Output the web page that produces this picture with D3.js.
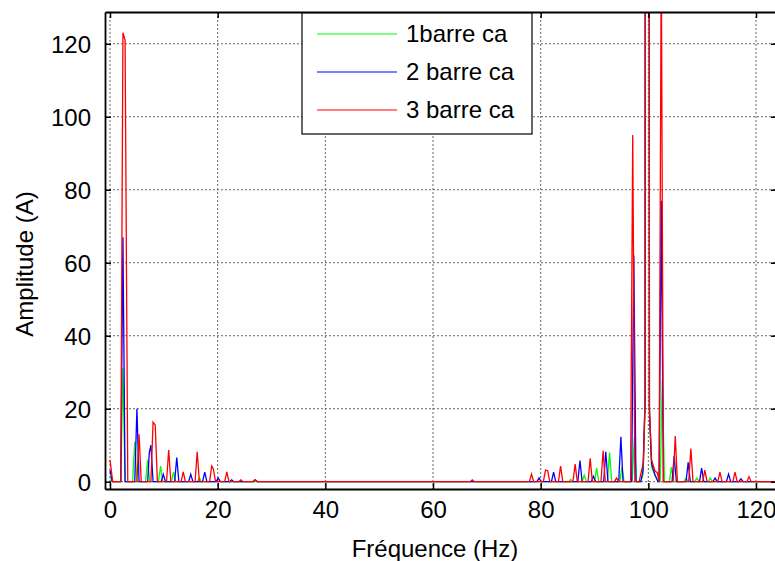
<!DOCTYPE html>
<html>
<head>
<meta charset="utf-8">
<script src="https://cdn.jsdelivr.net/npm/d3@7"></script>
<style>
  body { margin: 0; background: #fff; }
  svg { display: block; font-family: "Liberation Sans", Arial, sans-serif; }
</style>
</head>
<body>
<div id="chart"></div>
<script>
var green = [[0,1.5],[0.4,0],[2.0,0],[2.4,31],[2.8,0],[4.2,0],[4.6,11],[5.0,0],[6.6,0],[7.0,6],[7.4,0],
  [9.0,0],[9.4,4.3],[9.8,0],[11.4,0],[11.8,2.7],[12.2,0],[16.2,0],[16.6,1],[17.0,0],
  [85.2,0],[85.6,0.6],[86.0,0],[87.7,0],[88.1,1.8],[88.5,0],[90.0,0],[90.4,3.7],[90.8,0],[92.4,0],[92.8,8],[93.2,0],
  [94.7,0],[95.1,4],[95.5,0],[97.0,0],[97.4,12],[97.8,0],[98.6,0],[99.0,2],[99.4,20],[99.8,2000],[100.2,18],
  [100.6,4],[101.2,2],[101.8,0],[102.2,0],[102.6,28],[103.0,0],[103.9,0],[104.3,4],[104.7,0],[106.6,0],[107.0,1],
  [107.4,0],[108.6,0],[109.0,1],[109.4,0],[111.1,0],[111.5,1],[111.9,0],[124,0]];

var blue = [[0,3.2],[0.4,0],[2.0,0],[2.4,67],[2.8,0],[4.6,0],[5.0,20],[5.4,0],[7.0,0],[7.3,8],[7.6,10],[8.0,0],
  [9.5,0],[9.9,2],[10.3,0],[12.0,0],[12.4,6.6],[12.8,0],[14.6,0],[15.0,2],[15.4,0],[17.2,0],[17.6,2.6],[18.0,0],
  [19.7,0],[20.1,1],[20.5,0],[22.2,0],[22.6,0.5],[23.0,0],[26.6,0],[27.0,0.5],[27.4,0],
  [79.3,0],[79.7,1],[80.1,0],[82.0,0],[82.4,2.6],[82.8,0],[86.9,0],[87.3,5.8],[87.7,0],[89.4,0],[89.8,1.5],[90.2,0],
  [91.7,0],[92.1,8.2],[92.5,0],[94.5,0],[94.9,12.3],[95.3,0],[96.9,0],[97.3,62],[97.7,0],[98.6,0],[99.0,3],
  [99.4,22],[99.8,2000],[100.2,20],[100.6,5],[101.2,2],[101.8,0],[102.0,0],[102.4,77],[102.8,0],[104.4,0],
  [104.8,7],[105.2,0],[107.0,0],[107.4,5.3],[107.8,0],[109.5,0],[109.9,3.7],[110.3,0],[112.0,0],[112.4,1],[112.8,0],
  [114.5,0],[114.9,2.1],[115.3,0],[116.8,0],[117.2,0.8],[117.6,0],[124,0]];

var red = [[0,6],[0.5,0],[2.0,0],[2.4,123],[2.8,121],[3.3,0],[5.0,0],[5.4,13],[5.8,0],[7.6,0],[8.0,16.3],[8.4,15.5],
  [8.8,0],[10.5,0],[10.9,8.7],[11.3,0],[13.2,0],[13.6,2.7],[14.0,0],[15.8,0],[16.2,8.2],[16.6,0],[18.5,0],
  [18.9,4.3],[19.2,3.5],[19.6,0],[21.3,0],[21.7,2.7],[22.1,0],[23.9,0],[24.3,0.5],[24.7,0],[26.5,0],[26.9,0.5],
  [27.3,0],[66.9,0],[67.3,0.5],[67.7,0],[77.9,0],[78.3,2.1],[78.7,0],[80.5,0],[80.9,3.2],[81.3,3],[81.7,0],
  [83.3,0],[83.7,4.3],[84.1,0],[86.0,0],[86.4,4.8],[86.8,0],[88.8,0],[89.2,6.4],[89.6,0],[91.2,0],[91.6,8.5],
  [92.0,0],[93.7,0],[94.1,1],[94.5,0],[96.7,0],[97.1,95],[97.5,0],[98.3,0],[98.8,3.5],[99.1,5],[99.4,24],
  [99.8,2000],[100.2,20],[100.6,6],[101.2,3],[101.7,2.4],[102.0,0],[102.4,145],[102.8,0],[104.6,0],[105.0,12.5],
  [105.4,0],[107.5,0],[107.9,9.1],[108.3,0],[110.1,0],[110.5,3.2],[110.9,0],[112.9,0],[113.3,2.6],[113.7,0],
  [115.7,0],[116.1,2.6],[116.5,0],[118.3,0],[118.7,1.4],[119.1,0],[124,0]];

var seriesNames = ["1barre ca", "2 barre ca", "3 barre ca"];
var seriesColors = ["#00ff00", "#0000ff", "#ff0000"];
var xTicks = [0, 20, 40, 60, 80, 100, 120];
var yTicks = [0, 20, 40, 60, 80, 100, 120];

var width = 775, height = 561,
    margin = {top: 12, right: -2, bottom: 72, left: 105},
    w = width - margin.left - margin.right,
    h = height - margin.top - margin.bottom;

var svg = d3.select("#chart").append("svg")
    .attr("width", width)
    .attr("height", height);

var x = d3.scaleLinear().domain([-0.93, 123.9]).range([0, w]);
var y = d3.scaleLinear().domain([-2, 128.7]).range([h, 0]);

var g = svg.append("g")
    .attr("transform", "translate(" + margin.left + "," + margin.top + ")");

g.append("clipPath").attr("id", "clip")
  .append("rect").attr("width", w).attr("height", h);

// dotted grid
g.append("g").selectAll("line.gx")
  .data(xTicks).enter().append("line")
    .attr("x1", function(d) { return x(d); })
    .attr("x2", function(d) { return x(d); })
    .attr("y1", 0).attr("y2", h)
    .attr("stroke", "#666").attr("stroke-dasharray", "2,2");
g.append("g").selectAll("line.gy")
  .data(yTicks).enter().append("line")
    .attr("y1", function(d) { return y(d); })
    .attr("y2", function(d) { return y(d); })
    .attr("x1", 0).attr("x2", w)
    .attr("stroke", "#666").attr("stroke-dasharray", "2,2");

var line = d3.line()
    .x(function(d) { return x(d[0]); })
    .y(function(d) { return y(d[1]); });

g.append("g").attr("clip-path", "url(#clip)")
  .selectAll("path")
  .data([green, blue, red]).enter().append("path")
    .attr("d", line)
    .attr("fill", "none")
    .attr("stroke", function(d, i) { return seriesColors[i]; })
    .attr("stroke-width", 1.3);

// axes, ticks inside like matlab
var xAxis = d3.axisBottom(x).tickValues(xTicks).tickSizeInner(-6).tickSizeOuter(0).tickPadding(12);
var yAxis = d3.axisLeft(y).tickValues(yTicks).tickSizeInner(-6).tickSizeOuter(0).tickPadding(14);

var gx = g.append("g")
    .attr("transform", "translate(0," + h + ")")
    .call(xAxis);
var gy = g.append("g").call(yAxis);

g.append("g").call(d3.axisTop(x).tickValues(xTicks).tickSizeInner(-6).tickSizeOuter(0).tickFormat(""));
g.append("g").attr("transform", "translate(" + w + ",0)")
  .call(d3.axisRight(y).tickValues(yTicks).tickSizeInner(-6).tickSizeOuter(0).tickFormat(""));

g.selectAll(".domain").attr("stroke", "#000").attr("stroke-width", 1.8);
g.selectAll(".tick line").attr("stroke", "#000").attr("stroke-width", 1.5);
gx.selectAll("text").style("font-size", "24px").attr("fill", "#000");
gy.selectAll("text").style("font-size", "24px").attr("fill", "#000").attr("dy", "0.35em");

svg.append("text")
    .attr("x", 435).attr("y", 557)
    .attr("text-anchor", "middle")
    .style("font-size", "24px")
    .text("Fréquence (Hz)");

svg.append("text")
    .attr("transform", "translate(33,264) rotate(-90)")
    .attr("text-anchor", "middle")
    .style("font-size", "24px")
    .text("Amplitude (A)");

// legend
var legend = svg.append("g").attr("transform", "translate(302,13)");
legend.append("rect")
    .attr("width", 230).attr("height", 121)
    .attr("fill", "#fff").attr("stroke", "#000").attr("stroke-width", 1.2);
var item = legend.selectAll(".legend")
  .data(seriesNames).enter().append("g")
    .attr("transform", function(d, i) { return "translate(0," + (21 + i * 38) + ")"; });
item.append("line")
    .attr("x1", 15).attr("x2", 95)
    .attr("stroke", function(d, i) { return seriesColors[i]; })
    .attr("stroke-width", 1.1);
item.append("text")
    .attr("x", 104).attr("dy", "0.35em")
    .style("font-size", "24px")
    .text(function(d) { return d; });
</script>
</body>
</html>
